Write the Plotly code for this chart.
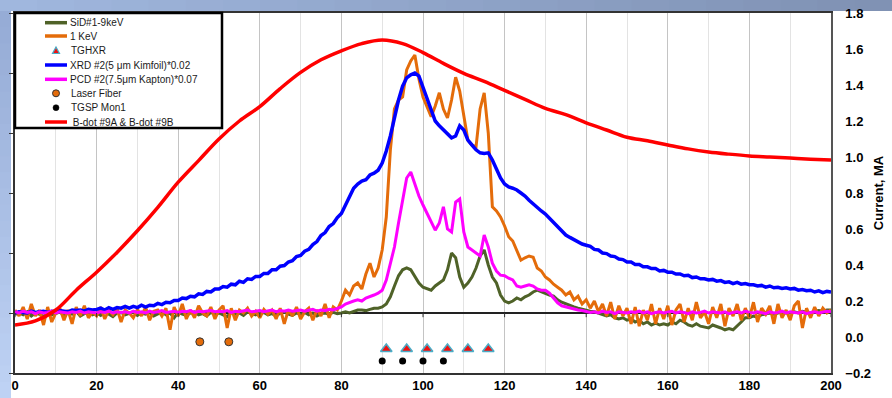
import plotly.graph_objects as go

# ---------------- data ----------------
x_sig = list(range(0, 201))

sid_9kev = [
    -0.02, 0.00, -0.03, 0.02, -0.05, 0.00, -0.02, -0.06, 0.01, -0.03,
    -0.01, 0.02, -0.04, 0.00, -0.02, 0.03, -0.05, -0.01, 0.01, -0.03,
    0.00, -0.04, 0.02, -0.02, -0.06, 0.00, 0.01, -0.03, -0.01, 0.02,
    -0.04, 0.00, -0.02, 0.01, -0.05, -0.01, 0.02, -0.03, 0.00, -0.08,
    0.01, -0.02, -0.04, 0.00, 0.02, -0.03, -0.01, -0.05, 0.01, -0.02,
    0.00, -0.03, -0.06, 0.01, -0.02, 0.00, -0.04, 0.02, -0.01, -0.03,
    0.00, 0.01, -0.03, -0.01, -0.05, 0.00, 0.02, -0.02, -0.04, 0.00,
    -0.02, 0.01, -0.03, 0.00, -0.05, -0.01, 0.00, -0.02, 0.01, -0.01,
    0.00, 0.02, 0.00, 0.03, 0.05, 0.05, 0.04, 0.06, 0.08, 0.08,
    0.10, 0.15, 0.27, 0.45, 0.62, 0.72, 0.75, 0.72, 0.62, 0.50,
    0.43, 0.40, 0.38, 0.45, 0.50, 0.55, 0.72, 1.00, 0.92, 0.60,
    0.43, 0.50, 0.60, 0.75, 0.95, 1.05, 0.80, 0.60, 0.50, 0.30,
    0.20, 0.17, 0.20, 0.25, 0.22, 0.27, 0.30, 0.35, 0.38, 0.35,
    0.33, 0.30, 0.28, 0.22, 0.18, 0.15, 0.12, 0.10, 0.08, 0.06,
    0.05, 0.03, 0.02, 0.00, -0.02, -0.05, -0.03, -0.08, -0.10, -0.08,
    -0.12, -0.10, -0.15, -0.12, -0.18, -0.15, -0.20, -0.17, -0.20, -0.18,
    -0.20, -0.15, -0.18, -0.12, -0.15, -0.20, -0.22, -0.18, -0.22, -0.23,
    -0.25, -0.20, -0.22, -0.25, -0.28, -0.26, -0.28, -0.22, -0.15, -0.08,
    -0.08, -0.05, -0.07, -0.03, -0.02, 0.00, -0.02, 0.00, 0.02, 0.00,
    0.00, 0.02, 0.00, 0.03, 0.02, 0.00, 0.03, 0.04, 0.03, 0.05,
    0.05,
]

kev_1 = [
    0.05, -0.05, 0.10, -0.10, 0.15, -0.05, 0.05, -0.20, 0.10, -0.15,
    0.00, 0.08, -0.12, 0.05, -0.18, 0.10, -0.05, 0.12, -0.08, 0.02,
    -0.05, 0.10, -0.10, 0.05, -0.03, 0.08, -0.15, 0.05, 0.00, -0.08,
    0.06, -0.05, 0.10, -0.12, 0.03, 0.05, -0.05, 0.08, -0.28, 0.10,
    -0.05, 0.15, -0.10, 0.05, -0.08, 0.12, 0.00, -0.05, 0.10, -0.10,
    0.05, 0.12, -0.25, 0.08, -0.12, 0.05, 0.00, 0.08, -0.05, 0.03,
    -0.08, 0.06, -0.02, 0.05, -0.10, 0.08, -0.18, 0.05, -0.05, 0.10,
    -0.10, 0.02, 0.08, -0.12, 0.05, -0.05, 0.15, -0.08, 0.10, 0.05,
    0.20, 0.38, 0.30, 0.45, 0.50, 0.40, 0.65, 0.83, 0.60, 0.75,
    1.05, 1.60, 2.72, 3.40, 3.55, 3.60, 4.05, 4.20, 4.30, 3.90,
    3.60, 3.43, 3.27, 3.45, 3.67, 3.40, 3.25, 3.55, 3.93, 3.70,
    3.27, 2.88, 2.80, 2.77, 3.40, 3.67, 3.00, 1.77, 1.70, 1.60,
    1.45, 1.27, 1.20, 1.05, 0.88, 0.92, 0.95, 0.93, 0.75, 0.70,
    0.60, 0.55, 0.48, 0.43, 0.38, 0.30, 0.35, 0.22, 0.28, 0.15,
    0.22, 0.08, 0.20, 0.02, 0.15, -0.05, 0.18, -0.10, 0.12, -0.05,
    0.08, -0.18, 0.10, -0.22, 0.05, -0.12, 0.15, -0.18, 0.08, -0.10,
    0.12, -0.20, 0.05, 0.15, -0.15, 0.08, -0.12, 0.18, -0.08, 0.02,
    -0.18, 0.10, -0.08, 0.15, -0.22, 0.08, -0.05, 0.15, -0.12, 0.08,
    -0.08, 0.18, -0.15, 0.08, -0.02, 0.12, -0.18, 0.15, -0.08, 0.05,
    -0.12, 0.12, 0.20, -0.25, 0.08, -0.08, 0.10, -0.05, 0.08, 0.00,
    0.05,
]

xrd_2 = [
    0.00, 0.02, 0.01, 0.00, 0.03, 0.01, 0.02, 0.03, 0.01, 0.03,
    0.02, 0.04, 0.03, 0.02, 0.05, 0.04, 0.05, 0.03, 0.06, 0.05,
    0.06, 0.08, 0.05, 0.09, 0.06, 0.09, 0.08, 0.11, 0.08, 0.11,
    0.09, 0.13, 0.10, 0.13, 0.12, 0.16, 0.14, 0.18, 0.17, 0.21,
    0.21, 0.25, 0.24, 0.28, 0.27, 0.32, 0.31, 0.36, 0.35, 0.40,
    0.40, 0.44, 0.43, 0.48, 0.47, 0.53, 0.51, 0.57, 0.56, 0.61,
    0.61, 0.66, 0.66, 0.72, 0.72, 0.78, 0.79, 0.85, 0.87, 0.94,
    0.96, 1.03, 1.06, 1.14, 1.19, 1.29, 1.34, 1.44, 1.49, 1.59,
    1.66, 1.80, 1.95, 2.08, 2.15, 2.20, 2.22, 2.30, 2.33, 2.38,
    2.50, 2.70, 2.95, 3.25, 3.55, 3.78, 3.92, 3.97, 4.00, 3.95,
    3.77, 3.60, 3.40, 3.20, 3.12, 3.05, 3.00, 2.92, 2.95, 3.12,
    3.05, 2.88, 2.80, 2.72, 2.67, 2.66, 2.67, 2.55, 2.40, 2.25,
    2.15, 2.10, 2.08, 2.05, 2.00, 1.95, 1.88, 1.82, 1.75, 1.70,
    1.65, 1.58, 1.50, 1.42, 1.36, 1.30, 1.26, 1.22, 1.18, 1.15,
    1.13, 1.11, 1.06, 1.05, 1.00, 0.99, 0.95, 0.94, 0.90, 0.89,
    0.85, 0.85, 0.81, 0.81, 0.77, 0.77, 0.74, 0.74, 0.70, 0.71,
    0.68, 0.68, 0.65, 0.65, 0.62, 0.63, 0.59, 0.60, 0.57, 0.57,
    0.55, 0.56, 0.53, 0.54, 0.51, 0.52, 0.49, 0.51, 0.48, 0.49,
    0.47, 0.47, 0.45, 0.46, 0.43, 0.45, 0.42, 0.43, 0.41, 0.42,
    0.40, 0.41, 0.38, 0.39, 0.37, 0.38, 0.35, 0.37, 0.34, 0.36,
    0.35,
]

pcd_2 = [
    0.02, 0.00, 0.03, 0.01, 0.02, -0.01, 0.02, 0.00, 0.01, 0.03,
    0.00, 0.02, 0.01, 0.00, 0.02, 0.01, 0.03, 0.00, 0.02, 0.01,
    0.00, 0.02, 0.01, 0.03, 0.00, 0.02, 0.01, 0.02, 0.00, 0.03,
    0.01, 0.02, 0.00, 0.03, 0.01, 0.02, 0.04, 0.01, 0.02, 0.03,
    0.01, 0.03, 0.02, 0.04, 0.01, 0.03, 0.02, 0.03, 0.04, 0.02,
    0.03, 0.02, 0.04, 0.01, 0.03, 0.02, 0.03, 0.05, 0.02, 0.03,
    0.04, 0.02, 0.03, 0.05, 0.02, 0.04, 0.03, 0.05, 0.03, 0.04,
    0.05, 0.03, 0.04, 0.06, 0.03, 0.05, 0.04, 0.06, 0.05, 0.08,
    0.10, 0.15, 0.18, 0.20, 0.22, 0.20, 0.25, 0.27, 0.30, 0.33,
    0.38, 0.55, 0.85, 1.10, 1.50, 1.90, 2.25, 2.35, 2.15, 1.95,
    1.80, 1.65, 1.50, 1.38, 1.50, 1.77, 1.40, 1.35, 1.85, 1.90,
    1.35, 1.10, 1.05, 1.00, 0.95, 1.30, 1.10, 0.83, 0.70, 0.63,
    0.62, 0.58, 0.55, 0.45, 0.43, 0.45, 0.47, 0.45, 0.40, 0.38,
    0.38, 0.33, 0.25, 0.17, 0.12, 0.10, 0.08, 0.06, 0.05, 0.04,
    0.03, 0.01, 0.02, 0.00, 0.03, 0.01, 0.02, -0.01, 0.02, 0.01,
    0.00, 0.02, 0.01, 0.03, 0.00, 0.02, -0.01, 0.01, 0.02, 0.00,
    0.01, 0.03, 0.00, 0.02, 0.01, -0.01, 0.02, 0.00, 0.01, 0.03,
    0.00, 0.02, 0.01, 0.00, 0.02, -0.01, 0.01, 0.02, 0.00, 0.03,
    0.01, 0.00, 0.02, 0.01, -0.01, 0.02, 0.00, 0.01, 0.03, 0.00,
    0.02, 0.01, 0.00, 0.02, -0.01, 0.01, 0.02, 0.00, 0.01, 0.03,
    0.02,
]

x_bdot = list(range(0, 201, 5))
bdot_current_ma = [
    0.067, 0.09, 0.15, 0.26, 0.36, 0.47, 0.59, 0.72, 0.86, 0.98,
    1.10, 1.20, 1.28, 1.38, 1.47, 1.54, 1.59, 1.63, 1.65, 1.63,
    1.58, 1.52, 1.465, 1.42, 1.37, 1.32, 1.27, 1.235, 1.19, 1.15,
    1.11, 1.09, 1.067, 1.045, 1.028, 1.016, 1.006, 1.0, 0.994, 0.988,
    0.983,
]

tghxr_x = [91, 96, 101, 106, 111, 116]
tghxr_y = [-0.6, -0.6, -0.6, -0.6, -0.6, -0.6]
laser_x = [45.3, 52.4]
laser_y = [-0.48, -0.48]
tgsp_x = [90, 95, 100, 105]
tgsp_y = [-0.8, -0.8, -0.8, -0.8]

x_ticks = list(range(0, 201, 20))
right_ticks = [-0.2, 0.0, 0.2, 0.4, 0.6, 0.8, 1.0, 1.2, 1.4, 1.6, 1.8]

legend_names = ["SiD#1-9keV", "1 KeV", "TGHXR", "XRD #2(5 μm Kimfoil)*0.02",
                "PCD #2(7.5μm Kapton)*0.07", "Laser Fiber", "TGSP Mon1",
                " B-dot #9A & B-dot #9B"]

# ---------------- styles ----------------
C_GREEN = "#4f6228"
C_ORANGE = "#e46c0a"
C_BLUE = "#0000ff"
C_MAG = "#ff00ff"
C_RED = "#ff0000"
FONT = "Liberation Sans, Arial, sans-serif"

W, H = 892, 398
ML, MR, MT, MB = 15, 61, 13, 25
PW, PH = W - ML - MR, H - MT - MB


def px(xp):
    return (xp - ML) / PW


def py(yp):
    return (H - MB - yp) / PH


fig = go.Figure()
fig.add_trace(go.Scatter(x=x_sig, y=sid_9kev, mode="lines", line=dict(color=C_GREEN, width=3), name=legend_names[0]))
fig.add_trace(go.Scatter(x=x_sig, y=kev_1, mode="lines", line=dict(color=C_ORANGE, width=3), name=legend_names[1]))
fig.add_trace(go.Scatter(x=x_sig, y=xrd_2, mode="lines", line=dict(color=C_BLUE, width=3.5), name=legend_names[3]))
fig.add_trace(go.Scatter(x=x_sig, y=pcd_2, mode="lines", line=dict(color=C_MAG, width=3), name=legend_names[4]))
fig.add_trace(go.Scatter(x=tghxr_x, y=tghxr_y, mode="markers",
                         marker=dict(symbol="triangle-up", size=10, color="#ee1111",
                                     line=dict(color="#4bacc6", width=1.5)), name=legend_names[2]))
fig.add_trace(go.Scatter(x=laser_x, y=laser_y, mode="markers",
                         marker=dict(symbol="circle", size=8, color=C_ORANGE,
                                     line=dict(color="#333333", width=1)), name=legend_names[5]))
fig.add_trace(go.Scatter(x=tgsp_x, y=tgsp_y, mode="markers",
                         marker=dict(symbol="circle", size=7, color="black"), name=legend_names[6]))
fig.add_trace(go.Scatter(x=x_bdot, y=bdot_current_ma, mode="lines", yaxis="y2",
                         line=dict(color=C_RED, width=3.5, shape="spline"), name=legend_names[7]))

shapes = []
# slide background: top band and left strip (gradients)
top_l = (160, 183, 222)
top_r = (128, 146, 180)
n = 24
for i in range(n):
    t = i / (n - 1)
    c = tuple(int(top_l[k] + (top_r[k] - top_l[k]) * t) for k in range(3))
    shapes.append(dict(type="rect", xref="paper", yref="paper", layer="below",
                       x0=px(i * W / n), x1=px((i + 1) * W / n + 1), y0=py(11), y1=py(0),
                       fillcolor="rgb(%d,%d,%d)" % c, line=dict(width=0)))
lt = (150, 172, 214)
lb = (190, 210, 244)
for i in range(n):
    t = i / (n - 1)
    c = tuple(int(lt[k] + (lb[k] - lt[k]) * t) for k in range(3))
    shapes.append(dict(type="rect", xref="paper", yref="paper", layer="below",
                       x0=px(0), x1=px(11), y0=py(11 + (i + 1) * (H - 11) / n + 1), y1=py(11 + i * (H - 11) / n),
                       fillcolor="rgb(%d,%d,%d)" % c, line=dict(width=0)))

# x tick marks on the zero line
for t in x_ticks:
    shapes.append(dict(type="line", xref="x", yref="y", x0=t, x1=t, y0=0, y1=-0.07,
                       line=dict(color="#333333", width=1)))

# legend box
shapes.append(dict(type="rect", xref="paper", yref="paper", x0=px(15), x1=px(222), y0=py(128), y1=py(13),
                   fillcolor="white", line=dict(color="black", width=2.5)))
rows = [22.7, 36.0, 50.7, 65.0, 79.3, 93.3, 107.7, 122.0]
line_cols = {0: C_GREEN, 1: C_ORANGE, 3: C_BLUE, 4: C_MAG, 7: C_RED}
for i, yr in enumerate(rows):
    if i in line_cols:
        shapes.append(dict(type="line", xref="paper", yref="paper", x0=px(45), x1=px(67), y0=py(yr), y1=py(yr),
                           line=dict(color=line_cols[i], width=3.5)))
# triangle marker
shapes.append(dict(type="path", xref="paper", yref="paper",
                   path="M %f,%f L %f,%f L %f,%f Z" % (px(52.5), py(53.5), px(59.5), py(53.5), px(56), py(47)),
                   fillcolor="#ee1111", line=dict(color="#4bacc6", width=1.2)))
shapes.append(dict(type="circle", xref="paper", yref="paper", x0=px(52.5), x1=px(59.5), y0=py(96.8), y1=py(89.8),
                   fillcolor=C_ORANGE, line=dict(color="#333333", width=1)))
shapes.append(dict(type="circle", xref="paper", yref="paper", x0=px(53), x1=px(59), y0=py(110.7), y1=py(104.7),
                   fillcolor="black", line=dict(color="black", width=0.5)))

annotations = []
text_x = [68, 68, 69, 68, 68, 68.5, 69, 68]
for i, (name, yr) in enumerate(zip(legend_names, rows)):
    annotations.append(dict(xref="paper", yref="paper", x=px(text_x[i]), y=py(yr), text=name,
                            showarrow=False, xanchor="left", yanchor="middle",
                            font=dict(family=FONT, size=10, color="#1a1a1a")))

fig.update_layout(
    width=W, height=H,
    margin=dict(l=ML, r=MR, t=MT, b=MB, autoexpand=False),
    paper_bgcolor="white", plot_bgcolor="white",
    showlegend=False, hovermode=False,
    shapes=shapes, annotations=annotations,
    xaxis=dict(range=[0, 200], tickvals=x_ticks, ticks="", showgrid=True, gridcolor="#c4c4c4", gridwidth=1,
               minor=dict(dtick=10, showgrid=True, gridcolor="#e3e3e3", gridwidth=1),
               showline=True, linecolor="#333333", linewidth=1.5, mirror=True, zeroline=False, automargin=False,
               tickfont=dict(family=FONT, size=13, color="black", weight="bold")),
    yaxis=dict(range=[-1, 5], dtick=1, showticklabels=False, ticks="outside", ticklen=4, tickcolor="#333333",
               showgrid=False, zeroline=True, zerolinecolor="#222222", zerolinewidth=1.5, automargin=False,
               showline=True, linecolor="#333333", linewidth=1.5),
    yaxis2=dict(overlaying="y", side="right", range=[-0.2, 1.8], tickvals=right_ticks, tickformat=".1f",
                ticks="", showgrid=False, zeroline=False, showline=True, linecolor="#555555", linewidth=1.5,
                ticklabelstandoff=10, automargin=False,
                tickfont=dict(family=FONT, size=13, color="black", weight="bold"),
                title=dict(text="Current, MA", standoff=4,
                           font=dict(family=FONT, size=13, color="black", weight="bold"))),
)

fig.write_html(
    "out.html",
    config={"displayModeBar": False},
    post_script="document.body.style.margin='0';document.body.style.overflow='hidden';",
)
